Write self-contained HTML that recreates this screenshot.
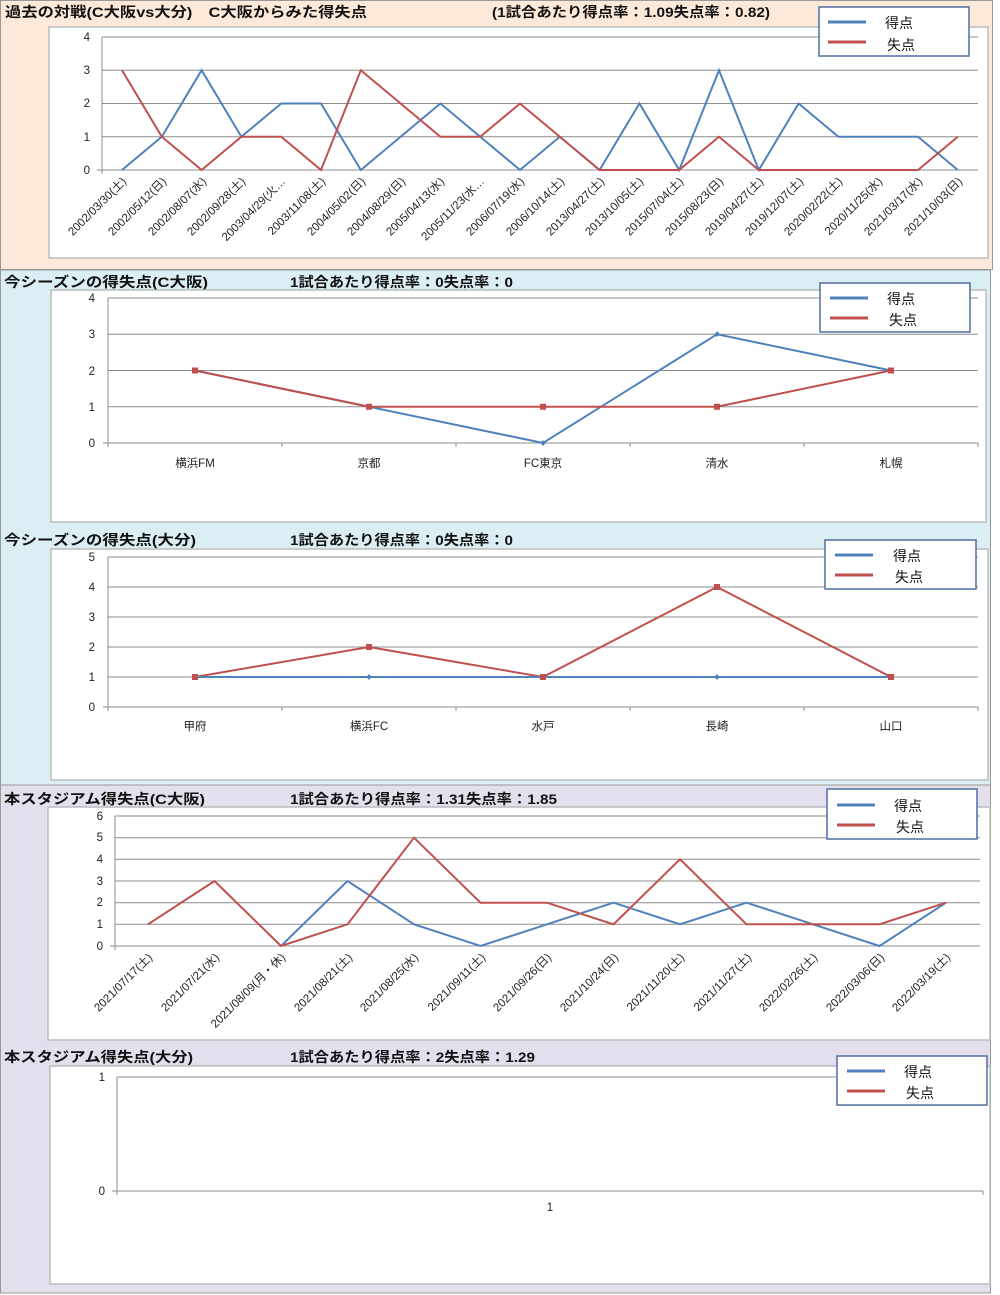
<!DOCTYPE html>
<html><head><meta charset="utf-8"><style>
html,body{margin:0;padding:0;background:#fff}
svg{display:block}
text{font-family:"Liberation Sans","Noto Sans CJK JP",sans-serif}
.t{font-size:14px;font-weight:bold;fill:#111}
.ax{font-size:11.5px;fill:#222}
.tk{font-size:11.5px;fill:#222}
.g{stroke:#8c8c8c;stroke-width:1}
.b{fill:none;stroke:#4f81bd;stroke-width:2}
.r{fill:none;stroke:#c0504d;stroke-width:2}
.box{fill:#fff;stroke:#bcbcbc;stroke-width:1.5}
.lg{fill:#fff;stroke:#4f6fa0;stroke-width:1.5}
.lt{font-size:14px;fill:#111}
</style></head><body>
<svg width="1000" height="1295" viewBox="0 0 1000 1295" xmlns="http://www.w3.org/2000/svg">
<rect x="0" y="0" width="1000" height="1295" fill="#fff"/>
<rect x="0.5" y="0.5" width="992" height="269" fill="#fde9d9" stroke="#999"/>
<rect x="0.5" y="270" width="990" height="515" fill="#daeef3" stroke="#999"/>
<rect x="0.5" y="785" width="990" height="508" fill="#e4dfec" stroke="#999"/>

<!-- Chart 1 -->
<text class="t" x="5" y="17" textLength="362" lengthAdjust="spacingAndGlyphs">過去の対戦(C大阪vs大分)　C大阪からみた得失点</text>
<text class="t" x="492" y="17" textLength="278" lengthAdjust="spacingAndGlyphs">(1試合あたり得点率：1.09失点率：0.82)</text>
<rect class="box" x="49" y="27" width="939" height="231"/>
<g class="g">
<line x1="102" y1="37" x2="978" y2="37"/><line x1="102" y1="70.25" x2="978" y2="70.25"/><line x1="102" y1="103.5" x2="978" y2="103.5"/><line x1="102" y1="136.75" x2="978" y2="136.75"/><line x1="97" y1="170" x2="978" y2="170"/>
<line x1="102" y1="37" x2="102" y2="174"/>
</g>
<g class="ax" text-anchor="end"><text x="90" y="41">4</text><text x="90" y="74">3</text><text x="90" y="107">2</text><text x="90" y="141">1</text><text x="90" y="174">0</text></g>
<polyline class="b" points="122,170 161.8,136.75 201.6,70.25 241.4,136.75 281.2,103.5 321,103.5 360.8,170 400.6,136.75 440.4,103.5 480.2,136.75 520,170 559.8,136.75 599.6,170 639.4,103.5 679.2,170 719,70.25 758.8,170 798.6,103.5 838.4,136.75 878.2,136.75 918,136.75 957.8,170"/>
<polyline class="r" points="122,70.25 161.8,136.75 201.6,170 241.4,136.75 281.2,136.75 321,170 360.8,70.25 400.6,103.5 440.4,136.75 480.2,136.75 520,103.5 559.8,136.75 599.6,170 639.4,170 679.2,170 719,136.75 758.8,170 798.6,170 838.4,170 878.2,170 918,170 957.8,136.75"/>
<g class="tk" text-anchor="end">
<text transform="translate(127,182) rotate(-45)">2002/03/30(土)</text>
<text transform="translate(167,182) rotate(-45)">2002/05/12(日)</text>
<text transform="translate(207,182) rotate(-45)">2002/08/07(水)</text>
<text transform="translate(246,182) rotate(-45)">2002/09/28(土)</text>
<text transform="translate(286,182) rotate(-45)">2003/04/29(火…</text>
<text transform="translate(326,182) rotate(-45)">2003/11/08(土)</text>
<text transform="translate(366,182) rotate(-45)">2004/05/02(日)</text>
<text transform="translate(406,182) rotate(-45)">2004/08/29(日)</text>
<text transform="translate(445,182) rotate(-45)">2005/04/13(水)</text>
<text transform="translate(485,182) rotate(-45)">2005/11/23(水…</text>
<text transform="translate(525,182) rotate(-45)">2006/07/19(水)</text>
<text transform="translate(565,182) rotate(-45)">2006/10/14(土)</text>
<text transform="translate(605,182) rotate(-45)">2013/04/27(土)</text>
<text transform="translate(644,182) rotate(-45)">2013/10/05(土)</text>
<text transform="translate(684,182) rotate(-45)">2015/07/04(土)</text>
<text transform="translate(724,182) rotate(-45)">2015/08/23(日)</text>
<text transform="translate(764,182) rotate(-45)">2019/04/27(土)</text>
<text transform="translate(804,182) rotate(-45)">2019/12/07(土)</text>
<text transform="translate(843,182) rotate(-45)">2020/02/22(土)</text>
<text transform="translate(883,182) rotate(-45)">2020/11/25(水)</text>
<text transform="translate(923,182) rotate(-45)">2021/03/17(水)</text>
<text transform="translate(963,182) rotate(-45)">2021/10/03(日)</text>
</g>
<rect class="lg" x="819" y="7" width="150" height="49"/>
<line x1="828" y1="22" x2="866" y2="22" stroke="#4f81bd" stroke-width="3"/>
<line x1="828" y1="42" x2="866" y2="42" stroke="#c0504d" stroke-width="3"/>
<text class="lt" x="885" y="28">得点</text><text class="lt" x="887" y="50">失点</text>

<!-- Chart 2 -->
<text class="t" x="4" y="287" textLength="204" lengthAdjust="spacingAndGlyphs">今シーズンの得失点(C大阪)</text>
<text class="t" x="290" y="287" textLength="223" lengthAdjust="spacingAndGlyphs">1試合あたり得点率：0失点率：0</text>
<rect class="box" x="51" y="290" width="935" height="232"/>
<g class="g">
<line x1="108" y1="298" x2="978" y2="298"/><line x1="108" y1="334.25" x2="978" y2="334.25"/><line x1="108" y1="370.5" x2="978" y2="370.5"/><line x1="108" y1="406.75" x2="978" y2="406.75"/><line x1="103" y1="443" x2="978" y2="443"/>
<line x1="108" y1="298" x2="108" y2="447"/>
<line x1="282" y1="443" x2="282" y2="447"/><line x1="456" y1="443" x2="456" y2="447"/><line x1="630" y1="443" x2="630" y2="447"/><line x1="804" y1="443" x2="804" y2="447"/><line x1="978" y1="443" x2="978" y2="447"/>
</g>
<g class="ax" text-anchor="end"><text x="95" y="302">4</text><text x="95" y="338">3</text><text x="95" y="375">2</text><text x="95" y="411">1</text><text x="95" y="447">0</text></g>
<polyline class="b" points="195,370.5 369,406.75 543,443 717,334.25 891,370.5"/>
<polyline class="r" points="195,370.5 369,406.75 543,406.75 717,406.75 891,370.5"/>
<g fill="#4f81bd"><rect x="541" y="441" width="4" height="4" transform="rotate(45 543 443)"/><rect x="715" y="332" width="4" height="4" transform="rotate(45 717 334.25)"/></g>
<g fill="#c0504d"><rect x="192" y="367.5" width="6" height="6"/><rect x="366" y="403.75" width="6" height="6"/><rect x="540" y="403.75" width="6" height="6"/><rect x="714" y="403.75" width="6" height="6"/><rect x="888" y="367.5" width="6" height="6"/></g>
<g class="ax" text-anchor="middle"><text x="195" y="467">横浜FM</text><text x="369" y="467">京都</text><text x="543" y="467">FC東京</text><text x="717" y="467">清水</text><text x="891" y="467">札幌</text></g>
<rect class="lg" x="820" y="283" width="150" height="49"/>
<line x1="830" y1="298" x2="868" y2="298" stroke="#4f81bd" stroke-width="3"/>
<line x1="830" y1="318" x2="868" y2="318" stroke="#c0504d" stroke-width="3"/>
<text class="lt" x="887" y="304">得点</text><text class="lt" x="889" y="325">失点</text>

<!-- Chart 3 -->
<text class="t" x="4" y="545" textLength="192" lengthAdjust="spacingAndGlyphs">今シーズンの得失点(大分)</text>
<text class="t" x="290" y="545" textLength="223" lengthAdjust="spacingAndGlyphs">1試合あたり得点率：0失点率：0</text>
<rect class="box" x="51" y="549" width="937" height="231"/>
<g class="g">
<line x1="108" y1="557" x2="978" y2="557"/><line x1="108" y1="587" x2="978" y2="587"/><line x1="108" y1="617" x2="978" y2="617"/><line x1="108" y1="647" x2="978" y2="647"/><line x1="108" y1="677" x2="978" y2="677"/><line x1="103" y1="707" x2="978" y2="707"/>
<line x1="108" y1="557" x2="108" y2="711"/>
<line x1="282" y1="707" x2="282" y2="711"/><line x1="456" y1="707" x2="456" y2="711"/><line x1="630" y1="707" x2="630" y2="711"/><line x1="804" y1="707" x2="804" y2="711"/><line x1="978" y1="707" x2="978" y2="711"/>
</g>
<g class="ax" text-anchor="end"><text x="95" y="561">5</text><text x="95" y="591">4</text><text x="95" y="621">3</text><text x="95" y="651">2</text><text x="95" y="681">1</text><text x="95" y="711">0</text></g>
<polyline class="r" points="195,677 369,647 543,677 717,587 891,677"/>
<polyline class="b" points="195,677 891,677"/>
<g fill="#4f81bd"><rect x="367" y="675" width="4" height="4" transform="rotate(45 369 677)"/><rect x="715" y="675" width="4" height="4" transform="rotate(45 717 677)"/></g>
<g fill="#c0504d"><rect x="192" y="674" width="6" height="6"/><rect x="366" y="644" width="6" height="6"/><rect x="540" y="674" width="6" height="6"/><rect x="714" y="584" width="6" height="6"/><rect x="888" y="674" width="6" height="6"/></g>
<g class="ax" text-anchor="middle"><text x="195" y="730">甲府</text><text x="369" y="730">横浜FC</text><text x="543" y="730">水戸</text><text x="717" y="730">長崎</text><text x="891" y="730">山口</text></g>
<rect class="lg" x="825" y="540" width="151" height="49"/>
<line x1="835" y1="555" x2="873" y2="555" stroke="#4f81bd" stroke-width="3"/>
<line x1="835" y1="575" x2="873" y2="575" stroke="#c0504d" stroke-width="3"/>
<text class="lt" x="893" y="561">得点</text><text class="lt" x="895" y="582">失点</text>

<!-- Chart 4 -->
<text class="t" x="4" y="804" textLength="201" lengthAdjust="spacingAndGlyphs">本スタジアム得失点(C大阪)</text>
<text class="t" x="290" y="804" textLength="267" lengthAdjust="spacingAndGlyphs">1試合あたり得点率：1.31失点率：1.85</text>
<rect class="box" x="48" y="807" width="942" height="233"/>
<g class="g">
<line x1="115" y1="816" x2="980" y2="816"/><line x1="115" y1="837.7" x2="980" y2="837.7"/><line x1="115" y1="859.3" x2="980" y2="859.3"/><line x1="115" y1="881" x2="980" y2="881"/><line x1="115" y1="902.7" x2="980" y2="902.7"/><line x1="115" y1="924.3" x2="980" y2="924.3"/><line x1="110" y1="946" x2="980" y2="946"/>
<line x1="115" y1="816" x2="115" y2="950"/>
</g>
<g class="ax" text-anchor="end"><text x="103" y="820">6</text><text x="103" y="841">5</text><text x="103" y="863">4</text><text x="103" y="885">3</text><text x="103" y="906">2</text><text x="103" y="928">1</text><text x="103" y="950">0</text></g>
<polyline class="b" points="281,946 347.5,881 414,924.3 480.5,946 547,924.3 613.5,902.7 680,924.3 746.5,902.7 813,924.3 879.5,946 946,902.7"/>
<polyline class="r" points="148,924.3 214.5,881 281,946 347.5,924.3 414,837.7 480.5,902.7 547,902.7 613.5,924.3 680,859.3 746.5,924.3 813,924.3 879.5,924.3 946,902.7"/>
<g class="tk" text-anchor="end">
<text transform="translate(153,958) rotate(-45)">2021/07/17(土)</text>
<text transform="translate(220,958) rotate(-45)">2021/07/21(水)</text>
<text transform="translate(286,958) rotate(-45)">2021/08/09(月・休)</text>
<text transform="translate(353,958) rotate(-45)">2021/08/21(土)</text>
<text transform="translate(419,958) rotate(-45)">2021/08/25(水)</text>
<text transform="translate(486,958) rotate(-45)">2021/09/11(土)</text>
<text transform="translate(552,958) rotate(-45)">2021/09/26(日)</text>
<text transform="translate(619,958) rotate(-45)">2021/10/24(日)</text>
<text transform="translate(685,958) rotate(-45)">2021/11/20(土)</text>
<text transform="translate(752,958) rotate(-45)">2021/11/27(土)</text>
<text transform="translate(818,958) rotate(-45)">2022/02/26(土)</text>
<text transform="translate(885,958) rotate(-45)">2022/03/06(日)</text>
<text transform="translate(951,958) rotate(-45)">2022/03/19(土)</text>
</g>
<rect class="lg" x="827" y="789" width="150" height="50"/>
<line x1="837" y1="805" x2="875" y2="805" stroke="#4f81bd" stroke-width="3"/>
<line x1="837" y1="825" x2="875" y2="825" stroke="#c0504d" stroke-width="3"/>
<text class="lt" x="894" y="811">得点</text><text class="lt" x="896" y="832">失点</text>

<!-- Chart 5 -->
<text class="t" x="4" y="1062" textLength="189" lengthAdjust="spacingAndGlyphs">本スタジアム得失点(大分)</text>
<text class="t" x="290" y="1062" textLength="245" lengthAdjust="spacingAndGlyphs">1試合あたり得点率：2失点率：1.29</text>
<rect class="box" x="50" y="1066" width="940" height="218"/>
<g class="g">
<line x1="117" y1="1077" x2="983" y2="1077"/><line x1="112" y1="1191" x2="983" y2="1191"/>
<line x1="117" y1="1077" x2="117" y2="1195"/><line x1="983" y1="1191" x2="983" y2="1195"/>
</g>
<g class="ax" text-anchor="end"><text x="105" y="1081">1</text><text x="105" y="1195">0</text></g>
<text class="tk" x="550" y="1211" text-anchor="middle">1</text>
<rect class="lg" x="837" y="1056" width="150" height="49"/>
<line x1="847" y1="1071" x2="885" y2="1071" stroke="#4f81bd" stroke-width="3"/>
<line x1="847" y1="1091" x2="885" y2="1091" stroke="#c0504d" stroke-width="3"/>
<text class="lt" x="904" y="1077">得点</text><text class="lt" x="906" y="1098">失点</text>
</svg>
</body></html>
